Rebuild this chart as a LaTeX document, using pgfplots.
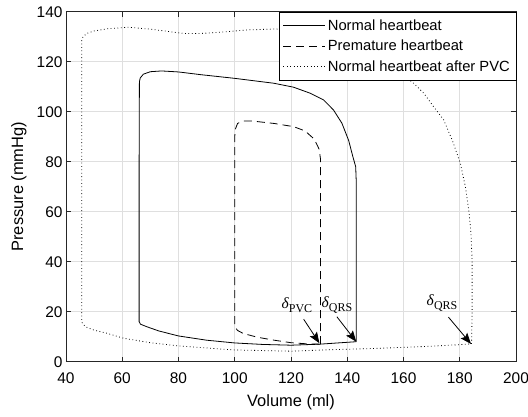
\documentclass[border=0pt]{standalone}
\usepackage{pgfplots}
\pgfplotsset{compat=1.18}
\usepackage{fontspec}
\setmainfont{Liberation Sans}
\newfontfamily\tnr{Liberation Serif}
\usetikzlibrary{arrows.meta}

\definecolor{axgray}{RGB}{38,38,38}
\definecolor{gridgray}{RGB}{223,223,223}

\newcommand{\dlab}[1]{{\tnr\fontsize{15.5}{18}\selectfont\textit{δ}\raisebox{-4.5bp}{\fontsize{12}{13}\selectfont #1}}}

\begin{document}
\begin{tikzpicture}
\path[use as bounding box] (-66bp,-55.3bp) rectangle (462bp,361.7bp);
\begin{axis}[
  at={(0,0)}, anchor=south west,
  scale only axis, width=450bp, height=350bp,
  xmin=40, xmax=200, ymin=0, ymax=140,
  xtick={40,60,...,200}, ytick={0,20,...,140},
  grid=major, major grid style={gridgray, line width=0.6bp},
  axis line style={axgray, line width=0.7bp},
  tick style={axgray, line width=0.7bp},
  tick align=inside, major tick length=5bp,
  tick label style={font=\fontsize{15.5}{18}\selectfont},
  xticklabel style={yshift=-7bp},
  /pgf/number format/assume math mode=true,
  xlabel={Volume (ml)}, ylabel={Pressure (mmHg)},
  label style={font=\fontsize{16.5}{20}\selectfont},
  xlabel style={at={(axis description cs:0.5,-0.115)}, anchor=center},
  ylabel style={at={(axis description cs:-0.105,0.5)}, anchor=center},
  legend style={at={(1,1)}, anchor=north east, draw=black, fill=white,
    font=\fontsize{14.8}{17}\selectfont, cells={anchor=west},
    inner xsep=4bp, inner ysep=5.5bp, row sep=4.5bp},
  legend image code/.code={\draw[#1] (0bp,0bp) -- (42bp,0bp);},
]
% normal heartbeat
\addplot[black, line width=0.8bp] coordinates {
(143.2,8) (143.2,20) (143.2,40) (143.2,60) (143.2,72) (143.0,78) (142.0,82)
(140.5,88.5) (138.1,95.4) (135.1,100.7) (131.6,104.7) (126.8,107.4) (120.9,109.8)
(113.8,111.4) (99.5,113.4) (88,114.8) (80,115.9) (74,116.3) (70,116) (67.5,115)
(66.4,113.5) (66.1,112) (66,80) (66,40) (66,16) (66.5,15) (68.7,14) (73,12.3)
(80,10.3) (90,8.6) (100,7.5) (110,6.9) (120,6.6) (130,7.0) (143.2,8)};
% premature heartbeat
\addplot[black, line width=0.8bp, dash pattern=on 8bp off 5bp] coordinates {
(130.5,7.0) (130.5,20) (130.5,60) (130.5,81) (130,85) (128.3,89) (125,92.3)
(121,94) (114,95.3) (106,96.3) (103,96.3) (101,95.3) (100.2,93) (100,90) (100,40)
(100,14) (101,12.5) (103,11.3) (108,9.8) (114,8.6) (120,7.6) (125,7.2) (130.5,7.0)};
% normal heartbeat after PVC
\addplot[black, line width=0.8bp, dash pattern=on 0.8bp off 2.6bp] coordinates {
(184.2,7.1) (184.4,20) (184.4,40) (184,51.4) (183.2,60.7) (182,70) (180.2,79.4)
(177.3,88.7) (174.3,96.7) (170.7,102) (167.2,107.4) (163.6,111.4) (160.6,114)
(155,120) (148,126) (140,130.5) (130,133) (120,133.3) (104.3,132.7) (95,131.8)
(88,131.3) (81.7,131.3) (75,132.3) (70,133) (62,133.8) (55,133.2) (50,132.3)
(47.3,131.3) (46,129.8) (45.6,128.7) (45.6,100) (45.6,16) (46,15) (47.3,13.8)
(50,12.6) (54.5,11.4) (60.4,9.4) (70,7.6) (80,6.3) (100,4.7) (120,4.2) (134,4.8)
(150,5.3) (159,5.7) (170,6.2) (184.2,7.1)};
\legend{Normal heartbeat, Premature heartbeat, Normal heartbeat after PVC}

\draw[line width=0.8bp, -{Stealth[length=11bp, width=8.5bp, inset=2bp]}]
  (axis cs:124.5,17) -- (axis cs:130.1,7.4);
\draw[line width=0.8bp, -{Stealth[length=11bp, width=8.5bp, inset=2bp]}]
  (axis cs:136.3,18) -- (axis cs:143.2,8);
\draw[line width=0.8bp, -{Stealth[length=11bp, width=8.5bp, inset=2bp]}]
  (axis cs:176,17.8) -- (axis cs:184,7.1);
\node at (axis cs:122.1,22.7) {\dlab{PVC}};
\node at (axis cs:136.3,22.7) {\dlab{QRS}};
\node at (axis cs:173.7,23.4) {\dlab{QRS}};
\end{axis}
\end{tikzpicture}
\end{document}
